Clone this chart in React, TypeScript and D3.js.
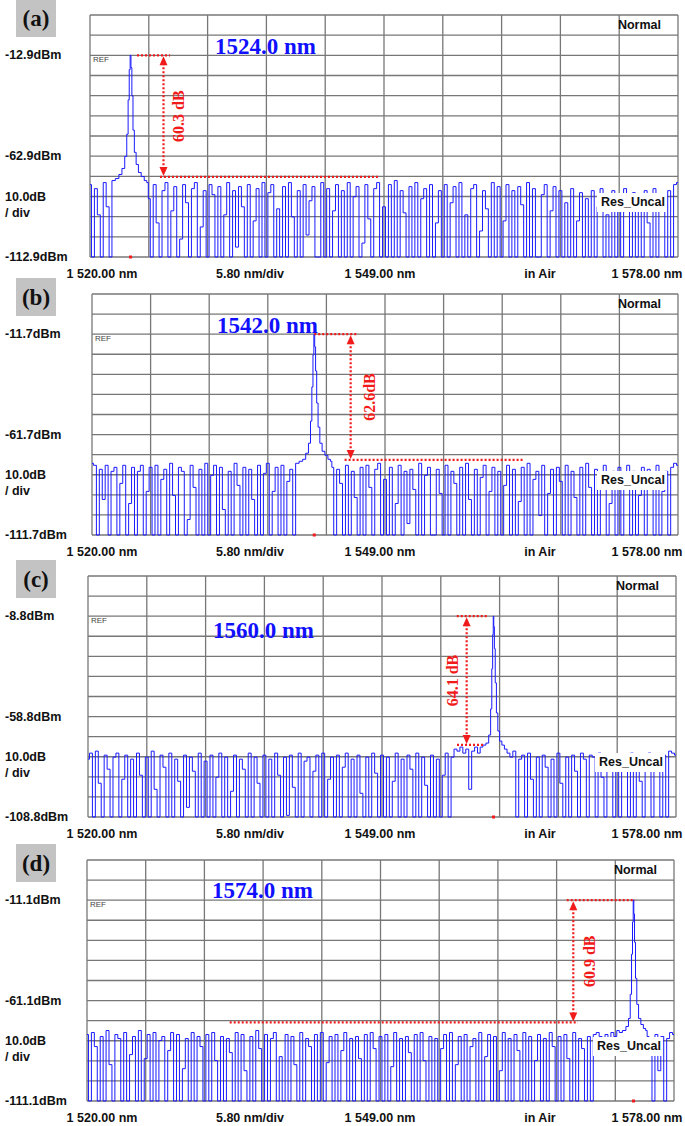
import { useRef, useEffect } from "react"
import * as d3 from "d3"

const W = 685
const H = 1126

// wavelength span of the OSA screen (nm)
const wlStart = 1520
const wlEnd = 1578
const wlPerDiv = 5.8
const bottomLabels = ["1 520.00 nm", "5.80 nm/div", "1 549.00 nm", "in Air", "1 578.00 nm"]

const panelTags = ["(a)", "(b)", "(c)", "(d)"]
const refLevels = [-12.9, -11.7, -8.8, -11.1]
const peakWavelengths = [1524.0, 1542.0, 1560.0, 1574.0]
const peakTitles = ["1524.0 nm", "1542.0 nm", "1560.0 nm", "1574.0 nm"]
const smsrValues = [60.3, 62.6, 64.1, 60.9]
const smsrLabels = ["60.3 dB", "62.6dB", "64.1 dB", "60.9 dB"]

// annotation wavelengths (nm)
const arrowWls = [1527.25, 1545.6, 1557.35, 1568.05]
const topLineWls = [[1524.64, 1527.9], [1542.0, 1546.2], [1556.37, 1559.5], [1567.4, 1574.15]]
const floorLineWls = [[1526.9, 1548.4], [1545.0, 1562.7], [1556.4, 1559.0], [1534.1, 1568.5]]
const smsrTextWls = [1528.73, 1547.5, 1556.0, 1569.65]

// noise floor traces (dBm), evenly spaced from 1520 to 1578 nm; -118 = below screen
const noiseA = [
  -77, -118, -79, -92, -118, -76, -88, -118, -78, -118, -76, -75, -74, -73, -73, -74, -75, -76, -118, -79,
  -84, -118, -77, -96, -118, -80, -76, -118, -90, -78, -118, -104, -77, -86, -118, -79, -76, -118, -98, -80,
  -118, -77, -82, -118, -78, -118, -92, -76, -118, -80, -108, -78, -88, -118, -77, -118, -95, -79, -118, -76,
  -118, -81, -77, -118, -89, -118, -78, -118, -76, -93, -118, -80, -118, -77, -102, -85, -78, -118, -118, -76,
  -118, -79, -118, -90, -77, -118, -80, -118, -76, -118, -83, -78, -118, -106, -77, -94, -118, -79, -76, -118,
  -88, -118, -77, -118, -75, -118, -80, -91, -118, -78, -118, -76, -118, -84, -79, -118, -77, -118, -96, -80,
  -118, -77, -118, -86, -78, -118, -76, -118, -92, -118, -79, -77, -118, -100, -80, -89, -118, -76, -118, -78,
  -118, -95, -77, -118, -80, -118, -78, -87, -118, -76, -118, -79, -118, -118, -82, -77, -118, -90, -78, -118,
  -80, -118, -86, -118, -79, -118, -95, -81, -118, -84, -118, -80, -118, -88, -79, -118, -92, -118, -80, -118,
  -84, -118, -79, -90, -118, -81, -118, -86, -118, -80, -96, -118, -79, -118, -88, -82, -118, -80, -118, -77, -76,
]
const noiseB = [
  -76, -77, -118, -79, -94, -77, -118, -80, -78, -118, -86, -77, -118, -96, -78, -118, -80, -77, -118, -90,
  -78, -118, -77, -118, -84, -79, -118, -76, -92, -118, -78, -80, -118, -104, -77, -88, -118, -79, -118, -76,
  -118, -82, -77, -118, -78, -99, -118, -80, -118, -76, -87, -118, -78, -118, -79, -94, -118, -77, -118, -81,
  -76, -118, -90, -78, -118, -77, -118, -85, -79, -118, -76, -118, -92, -78, -118, -80, -76, -76, -75, -75,
  -76, -77, -78, -118, -79, -86, -118, -77, -118, -80, -93, -118, -78, -118, -77, -88, -118, -79, -76, -118,
  -84, -118, -78, -118, -96, -77, -118, -80, -106, -79, -89, -118, -76, -118, -82, -78, -118, -118, -79, -91,
  -118, -77, -118, -80, -86, -118, -78, -118, -76, -94, -118, -79, -118, -83, -77, -118, -90, -78, -118, -80,
  -118, -87, -77, -118, -79, -118, -95, -78, -118, -76, -118, -84, -80, -102, -77, -118, -91, -79, -118, -78,
  -85, -118, -77, -118, -80, -93, -118, -78, -118, -76, -88, -118, -79, -118, -82, -77, -118, -96, -80, -118,
  -78, -118, -86, -77, -118, -80, -118, -92, -78, -118, -79, -84, -118, -77, -118, -90, -80, -118, -78, -76, -77,
]
const noiseC = [
  -80, -77, -118, -76, -92, -118, -78, -85, -118, -79, -77, -118, -90, -78, -118, -80, -118, -77, -88, -118,
  -79, -118, -76, -95, -118, -78, -84, -118, -77, -118, -80, -91, -118, -78, -104, -79, -86, -118, -77, -118,
  -81, -118, -78, -118, -89, -77, -118, -79, -118, -96, -78, -118, -80, -85, -118, -77, -118, -79, -92, -118,
  -78, -118, -80, -118, -77, -88, -118, -79, -108, -78, -94, -118, -77, -118, -81, -79, -118, -86, -78, -118,
  -77, -118, -90, -79, -118, -78, -118, -84, -77, -118, -80, -118, -78, -97, -118, -79, -118, -77, -87, -118,
  -78, -118, -79, -118, -91, -77, -118, -80, -118, -78, -85, -118, -77, -118, -79, -93, -118, -78, -118, -80,
  -118, -88, -77, -118, -79, -75, -76, -74, -77, -75, -95, -76, -74, -77, -75, -74, -73, -72, -72, -73,
  -74, -75, -76, -77, -79, -76, -118, -80, -78, -118, -77, -90, -118, -79, -118, -78, -84, -118, -80, -118,
  -77, -92, -118, -79, -118, -78, -86, -118, -77, -80, -118, -78, -79, -118, -77, -89, -118, -78, -80, -118,
  -79, -118, -78, -84, -118, -77, -118, -80, -91, -118, -78, -77, -118, -79, -85, -118, -78, -118, -76, -77, -78,
]
const noiseD = [
  -78, -118, -77, -84, -118, -79, -118, -76, -93, -118, -78, -80, -118, -77, -118, -88, -79, -118, -76, -118,
  -90, -78, -118, -77, -118, -81, -79, -118, -86, -77, -118, -78, -118, -95, -80, -118, -77, -118, -79, -84,
  -118, -78, -118, -77, -91, -118, -79, -118, -80, -87, -118, -77, -118, -78, -96, -118, -79, -118, -76, -85,
  -118, -78, -118, -80, -77, -118, -89, -118, -78, -118, -79, -93, -118, -77, -118, -80, -84, -118, -78, -118,
  -77, -118, -92, -79, -118, -78, -118, -86, -77, -118, -80, -118, -79, -90, -118, -78, -118, -77, -85, -118,
  -79, -118, -78, -118, -94, -77, -118, -80, -118, -79, -87, -118, -78, -118, -77, -91, -118, -79, -118, -80,
  -118, -85, -78, -118, -77, -118, -93, -79, -118, -78, -118, -84, -80, -118, -77, -118, -89, -78, -118, -79,
  -118, -96, -77, -118, -80, -118, -78, -86, -118, -77, -118, -79, -118, -91, -78, -118, -80, -118, -77, -84,
  -118, -79, -118, -78, -90, -118, -77, -118, -80, -85, -118, -79, -118, -78, -77, -79, -82, -78, -80, -77,
  -79, -76, -75, -74, -73, -72, -72, -73, -75, -76, -77, -79, -80, -118, -78, -96, -79, -118, -80, -77, -78,
]

// laser line shapes: [offset from peak (nm), dBm]
const peakA = [
  [-1.7, -75], [-1.3, -74], [-1.0, -72], [-0.7, -69], [-0.45, -63], [-0.3, -52], [-0.18, -35], [-0.08, -20],
  [0, -12.9], [0.08, -19], [0.18, -33], [0.3, -50], [0.45, -61], [0.65, -67], [0.9, -71], [1.2, -73], [1.5, -75], [1.7, -76],
]
const peakB = [
  [-1.7, -76], [-1.3, -75], [-1.0, -74], [-0.7, -71], [-0.45, -66], [-0.3, -55], [-0.18, -38], [-0.08, -22],
  [0, -11.7], [0.08, -18], [0.18, -30], [0.3, -46], [0.45, -58], [0.65, -66], [0.9, -70], [1.2, -72], [1.5, -74], [1.7, -75],
]
const peakC = [
  [-1.2, -74], [-0.9, -73], [-0.6, -72], [-0.35, -68], [-0.22, -55], [-0.12, -35], [-0.05, -18],
  [0, -8.8], [0.05, -14], [0.12, -25], [0.22, -42], [0.35, -57], [0.5, -66], [0.7, -71], [0.95, -73], [1.2, -75],
]
const peakD = [
  [-1.3, -77], [-0.9, -76], [-0.6, -74], [-0.4, -70], [-0.25, -58], [-0.14, -38], [-0.06, -22],
  [0, -11.1], [0.06, -18], [0.14, -32], [0.25, -50], [0.4, -63], [0.6, -70], [0.85, -73], [1.1, -75], [1.3, -76],
]

const noiseTraces = [noiseA, noiseB, noiseC, noiseD]
const peakShapes = [peakA, peakB, peakC, peakD]

// screen layout of each panel (pixels)
const panelBoxes = [
  { left: 90, right: 678, top: 15, bottom: 257, titleDy: 31 },
  { left: 92, right: 678, top: 294, bottom: 535, titleDy: 31 },
  { left: 88, right: 676, top: 576, bottom: 817, titleDy: 54 },
  { left: 87, right: 674, top: 860, bottom: 1101, titleDy: 30 },
]
const bottomLabelX = [102, 250, 380, 540, 647]

const sans = "'Liberation Sans', Arial, sans-serif"
const serif = "'Liberation Serif', 'Times New Roman', serif"
const red = "#f21b1b"

function buildTrace(noise: number[], peak: number[][], center: number) {
  const step = (wlEnd - wlStart) / (noise.length - 1)
  const half = d3.max(peak, (d) => Math.abs(d[0])) || 0
  const pts = noise
    .map((v, i) => [wlStart + i * step, v])
    .filter((d) => Math.abs(d[0] - center) > half)
  const pk = peak.map((d) => [center + d[0], d[1]])
  return pts.concat(pk).sort((a, b) => a[0] - b[0])
}

function drawPanel(svg: any, i: number) {
  const box = panelBoxes[i]
  const ref = refLevels[i]
  const yMin = ref - 100
  const x = d3.scaleLinear().domain([wlStart, wlEnd]).range([box.left, box.right])
  const y = d3.scaleLinear().domain([yMin, ref + 20]).range([box.bottom, box.top])
  const g = svg.append("g")

  // grid
  const xTicks = d3.range(0, 11).map((k) => wlStart + k * wlPerDiv)
  const yTicks = d3.range(0, 13).map((k) => yMin + k * 10)
  g.selectAll(".vg")
    .data(xTicks)
    .join("line")
    .attr("x1", (d: number) => x(d))
    .attr("x2", (d: number) => x(d))
    .attr("y1", box.top)
    .attr("y2", box.bottom)
    .attr("stroke", "#777")
    .attr("stroke-width", 1.3)
  g.selectAll(".hg")
    .data(yTicks)
    .join("line")
    .attr("x1", box.left)
    .attr("x2", box.right)
    .attr("y1", (d: number) => y(d))
    .attr("y2", (d: number) => y(d))
    .attr("stroke", "#777")
    .attr("stroke-width", 1.3)

  g.append("text")
    .attr("x", box.left + 3)
    .attr("y", y(ref) + 7)
    .attr("font-family", sans)
    .attr("font-size", 8)
    .attr("fill", "#444")
    .text("REF")

  // trace
  const clipId = `clip-${i}`
  g.append("clipPath")
    .attr("id", clipId)
    .append("rect")
    .attr("x", box.left)
    .attr("y", box.top)
    .attr("width", box.right - box.left)
    .attr("height", box.bottom - box.top + 1)
  const data = buildTrace(noiseTraces[i], peakShapes[i], peakWavelengths[i])
  const line = d3
    .line()
    .x((d: number[]) => x(d[0]))
    .y((d: number[]) => y(Math.max(d[1], yMin)))
    .curve(d3.curveStep)
  g.append("path")
    .attr("clip-path", `url(#${clipId})`)
    .attr("d", line(data))
    .attr("fill", "none")
    .attr("stroke", "#1a1aff")
    .attr("stroke-width", 1)

  // marker at the peak
  g.append("rect")
    .attr("x", x(peakWavelengths[i]) - 1.5)
    .attr("y", box.bottom - 1.5)
    .attr("width", 3)
    .attr("height", 3)
    .attr("fill", red)

  // SMSR annotation
  const topY = y(ref)
  const floorY = y(ref - smsrValues[i])
  const ax = x(arrowWls[i])
  const dotted = (x1: number, y1: number, x2: number, y2: number) =>
    g.append("line")
      .attr("x1", x1)
      .attr("y1", y1)
      .attr("x2", x2)
      .attr("y2", y2)
      .attr("stroke", red)
      .attr("stroke-width", 2.2)
      .attr("stroke-dasharray", "2 2")
  dotted(x(topLineWls[i][0]), topY, x(topLineWls[i][1]), topY)
  dotted(x(floorLineWls[i][0]), floorY, x(floorLineWls[i][1]), floorY)
  dotted(ax, topY + 8, ax, floorY - 8)
  g.append("path")
    .attr("d", `M${ax - 4},${topY + 10}L${ax},${topY + 1}L${ax + 4},${topY + 10}Z`)
    .attr("fill", red)
  g.append("path")
    .attr("d", `M${ax - 4},${floorY - 10}L${ax},${floorY - 1}L${ax + 4},${floorY - 10}Z`)
    .attr("fill", red)
  g.append("text")
    .attr("transform", `translate(${x(smsrTextWls[i])},${(topY + floorY) / 2}) rotate(-90)`)
    .attr("text-anchor", "middle")
    .attr("dominant-baseline", "central")
    .attr("font-family", serif)
    .attr("font-weight", "bold")
    .attr("font-size", 16)
    .attr("fill", red)
    .text(smsrLabels[i])

  // wavelength title
  g.append("text")
    .attr("x", box.left + 125)
    .attr("y", box.top + box.titleDy)
    .attr("dominant-baseline", "central")
    .attr("font-family", serif)
    .attr("font-weight", "bold")
    .attr("font-size", 23)
    .attr("fill", "#1010ff")
    .text(peakTitles[i])

  // status labels
  g.append("text")
    .attr("x", box.right - 17)
    .attr("y", box.top + 10)
    .attr("text-anchor", "end")
    .attr("dominant-baseline", "central")
    .attr("font-family", sans)
    .attr("font-weight", "bold")
    .attr("font-size", 12.5)
    .attr("fill", "#111")
    .text("Normal")
  g.append("rect")
    .attr("x", box.right - 81)
    .attr("y", box.bottom - 64)
    .attr("width", 70)
    .attr("height", 19)
    .attr("fill", "#fff")
  g.append("text")
    .attr("x", box.right - 13)
    .attr("y", box.bottom - 55)
    .attr("text-anchor", "end")
    .attr("dominant-baseline", "central")
    .attr("font-family", sans)
    .attr("font-weight", "bold")
    .attr("font-size", 12.5)
    .attr("fill", "#111")
    .text("Res_Uncal")

  // left level labels
  const left = [
    { t: `${ref.toFixed(1)}dBm`, y: y(ref) },
    { t: `${(ref - 50).toFixed(1)}dBm`, y: y(ref - 50) },
    { t: "10.0dB", y: y(ref - 70) },
    { t: "/ div", y: y(ref - 70) + 16 },
    { t: `${(ref - 100).toFixed(1)}dBm`, y: y(ref - 100) },
  ]
  g.selectAll(".ll")
    .data(left)
    .join("text")
    .attr("x", 5)
    .attr("y", (d: any) => d.y)
    .attr("dominant-baseline", "central")
    .attr("font-family", sans)
    .attr("font-weight", "bold")
    .attr("font-size", 12.5)
    .attr("fill", "#111")
    .text((d: any) => d.t)

  // bottom labels
  g.selectAll(".bl")
    .data(bottomLabels)
    .join("text")
    .attr("x", (_: string, k: number) => bottomLabelX[k])
    .attr("y", box.bottom + 17)
    .attr("text-anchor", "middle")
    .attr("dominant-baseline", "central")
    .attr("font-family", sans)
    .attr("font-weight", "bold")
    .attr("font-size", 12.5)
    .attr("fill", "#111")
    .text((d: string) => d)

  // panel tag
  g.append("rect")
    .attr("x", 16)
    .attr("y", box.top - 16)
    .attr("width", 40)
    .attr("height", 38)
    .attr("fill", "#c3c3c3")
  g.append("text")
    .attr("x", 36)
    .attr("y", box.top + 3)
    .attr("text-anchor", "middle")
    .attr("dominant-baseline", "central")
    .attr("font-family", serif)
    .attr("font-weight", "bold")
    .attr("font-size", 23)
    .attr("fill", "#111")
    .text(panelTags[i])
}

export default function App() {
  const svgRef = useRef<SVGSVGElement>(null)

  useEffect(() => {
    document.body.style.margin = "0"
    if (!svgRef.current) return
    const svg = d3.select(svgRef.current)
    svg.selectAll("*").remove()
    svg.append("rect").attr("width", W).attr("height", H).attr("fill", "#fff")
    panelTags.forEach((_, i) => drawPanel(svg, i))
  }, [])

  return <svg ref={svgRef} width={W} height={H} style={{ display: "block" }} />
}
